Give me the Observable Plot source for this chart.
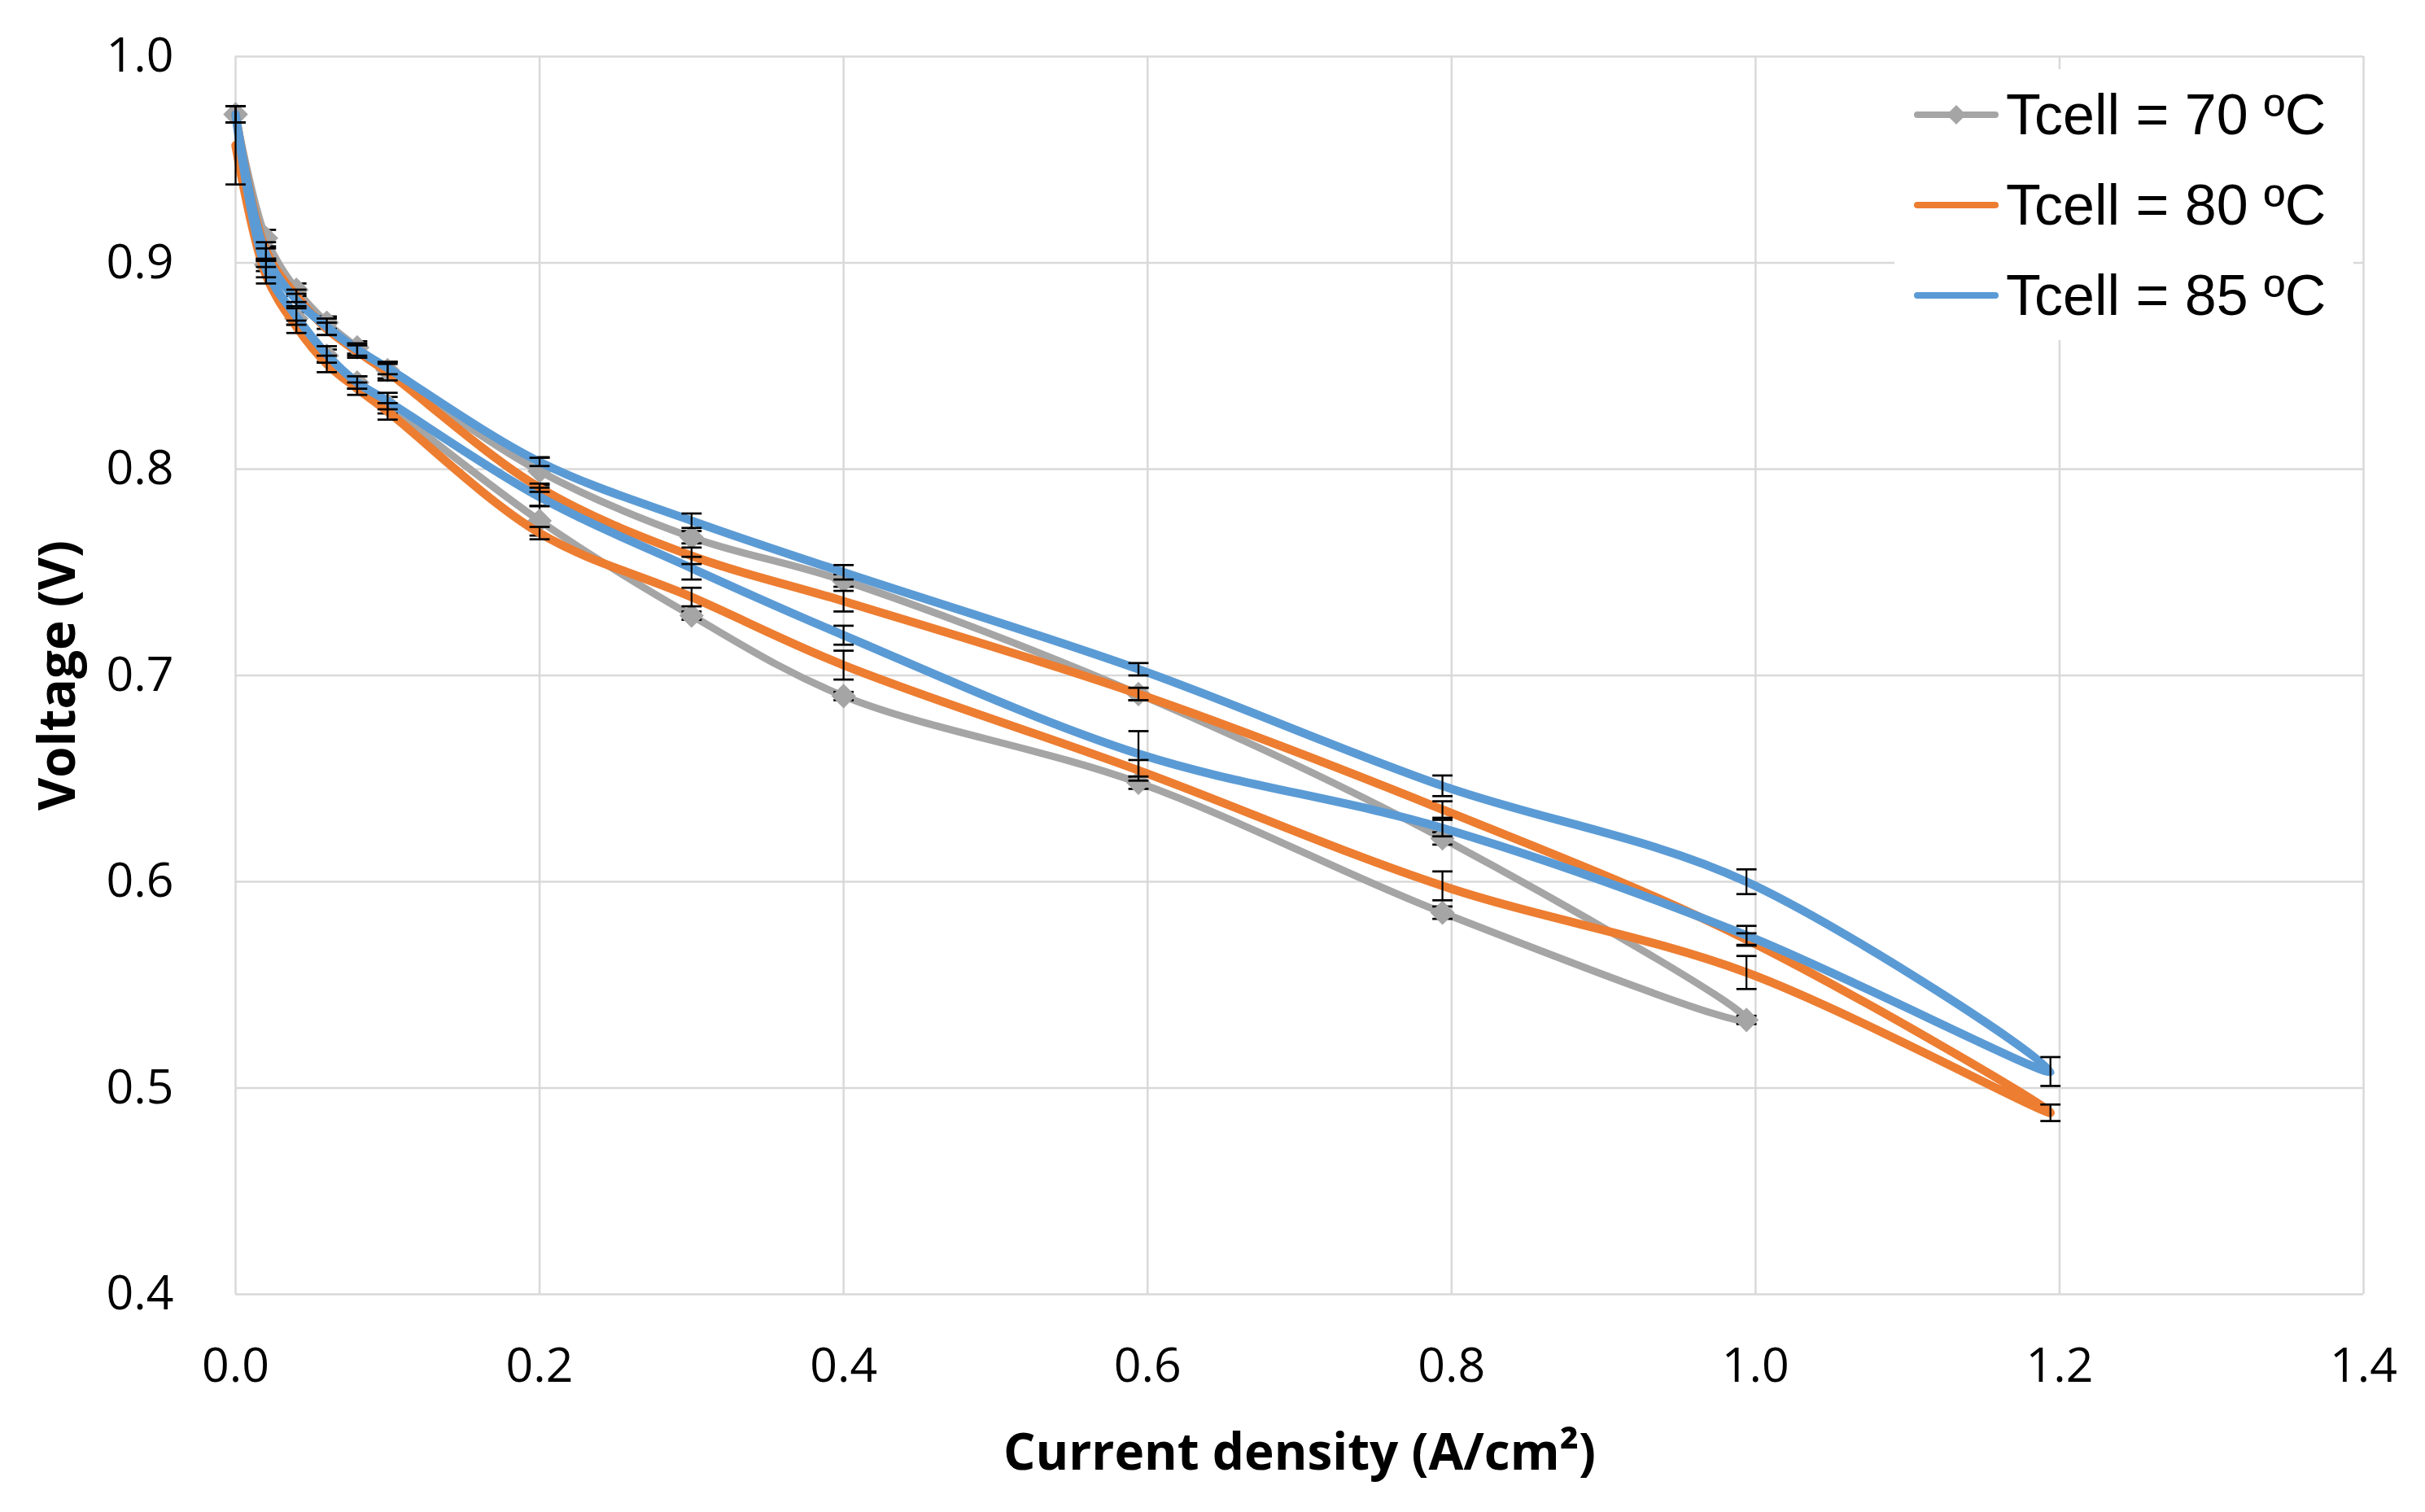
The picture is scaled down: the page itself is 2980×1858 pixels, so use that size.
<!DOCTYPE html>
<html>
<head>
<meta charset="utf-8">
<script src="https://cdn.jsdelivr.net/npm/d3@7"></script>
<script src="https://cdn.jsdelivr.net/npm/@observablehq/plot@0.6"></script>
<style>
  body { margin: 0; background: #fff; }
  #chart { position: relative; width: 2980px; height: 1858px; }
  g[aria-label="x-axis label"] text,
  g[aria-label="y-axis label"] text { font-weight: 700; font-size: 62px; }
  #legend {
    position: absolute; left: 2328px; top: 85px; width: 564px; height: 333px;
    background: #fff; font-family: "Liberation Sans", Arial, sans-serif; font-size: 70px; color: #000;
  }
  #legend .row { height: 111px; display: flex; align-items: center; }
  #legend svg { margin-left: 24px; margin-right: 9px; }
</style>
</head>
<body>
<div id="chart"></div>
<script>
// current density (A/cm2), voltage (V) and error (+/- V), in drawing order (up then back)
const i70 = [0, 0.02, 0.04, 0.06, 0.08, 0.1, 0.2, 0.3, 0.4, 0.594, 0.794, 0.994, 0.794, 0.594, 0.4, 0.3, 0.2, 0.1, 0.08, 0.06, 0.04, 0.02, 0];
const v70 = [0.972, 0.912, 0.887, 0.871, 0.859, 0.848, 0.799, 0.767, 0.746, 0.691, 0.621, 0.533, 0.585, 0.648, 0.690, 0.729, 0.775, 0.831, 0.842, 0.855, 0.873, 0.899, 0.972];
const e70 = [0.004, 0.004, 0.003, 0.003, 0.003, 0.004, 0.0068, 0.003, 0.003, 0.003, 0.003, 0.002, 0.003, 0.003, 0.002, 0.002, 0.0072, 0.004, 0.003, 0.003, 0.003, 0.003, 0.004];

const i80 = [0, 0.02, 0.04, 0.06, 0.08, 0.1, 0.2, 0.3, 0.4, 0.594, 0.794, 0.994, 1.194, 0.994, 0.794, 0.594, 0.4, 0.3, 0.2, 0.1, 0.08, 0.06, 0.04, 0.02, 0];
const v80 = [0.972, 0.906, 0.884, 0.868, 0.857, 0.847, 0.791, 0.758, 0.736, 0.691, 0.635, 0.572, 0.488, 0.556, 0.598, 0.654, 0.705, 0.738, 0.769, 0.828, 0.839, 0.851, 0.869, 0.894, 0.957];
const e80 = [0.004, 0.004, 0.003, 0.003, 0.003, 0.004, 0.002, 0.004, 0.005, 0.003, 0.004, 0.003, 0.004, 0.008, 0.007, 0.005, 0.007, 0.0045, 0.003, 0.004, 0.003, 0.004, 0.003, 0.004, 0.019];

const i85 = [0, 0.02, 0.04, 0.06, 0.08, 0.1, 0.2, 0.3, 0.4, 0.594, 0.794, 0.994, 1.194, 0.994, 0.794, 0.594, 0.4, 0.3, 0.2, 0.1, 0.08, 0.06, 0.04, 0.02, 0];
const v85 = [0.972, 0.904, 0.882, 0.869, 0.858, 0.849, 0.8035, 0.775, 0.750, 0.703, 0.6465, 0.600, 0.508, 0.574, 0.626, 0.662, 0.7195, 0.752, 0.7865, 0.833, 0.842, 0.8556, 0.874, 0.897, 0.972];
const e85 = [0.004, 0.003, 0.003, 0.004, 0.003, 0.003, 0.002, 0.0035, 0.0035, 0.003, 0.005, 0.006, 0.007, 0.0046, 0.004, 0.011, 0.0046, 0.0055, 0.0045, 0.004, 0.003, 0.004, 0.004, 0.004, 0.004];

const seriesNames = ["Tcell = 70 ºC", "Tcell = 80 ºC", "Tcell = 85 ºC"];
const seriesColors = ["#A5A5A5", "#ED7D31", "#5B9BD5"];
const xTicks = [0, 0.2, 0.4, 0.6, 0.8, 1.0, 1.2, 1.4];
const yTicks = [0.4, 0.5, 0.6, 0.7, 0.8, 0.9, 1.0];

const rows = (is, vs, es) => is.map((i, k) => ({ i, v: vs[k], e: es[k] }));
const s70 = rows(i70, v70, e70);
const s80 = rows(i80, v80, e80);
const s85 = rows(i85, v85, e85);

// flat cap for the error bars
const cap = {
  draw(context, size) {
    const w = Math.sqrt(size) / 2;
    context.moveTo(-w, 0);
    context.lineTo(w, 0);
  }
};
// square diamond like Excel's marker
const rhombus = {
  draw(context, size) {
    const w = Math.sqrt(size) / 2;
    context.moveTo(0, -w);
    context.lineTo(w, 0);
    context.lineTo(0, w);
    context.lineTo(-w, 0);
    context.closePath();
  }
};

// error bar marks for one set of rows
const errorBars = (data) => [
  Plot.ruleX(data, { x: "i", y1: (d) => d.v - d.e, y2: (d) => d.v + d.e, stroke: "#000", strokeWidth: 2.3 }),
  Plot.dot(data, { x: "i", y: (d) => d.v + d.e, symbol: cap, r: 14, stroke: "#000", strokeWidth: 2.7 }),
  Plot.dot(data, { x: "i", y: (d) => d.v - d.e, symbol: cap, r: 14, stroke: "#000", strokeWidth: 2.7 })
];

const grid = { stroke: "#d9d9d9", strokeOpacity: 1, strokeWidth: 2.5 };

const chart = Plot.plot({
  width: 2980,
  height: 1858,
  marginLeft: 289,
  marginRight: 76,
  marginTop: 69,
  marginBottom: 268,
  style: { fontFamily: "'Open Sans'", fontSize: "59px", color: "#000", background: "#fff" },
  x: { domain: [0, 1.4] },
  y: { domain: [0.4, 1.0] },
  marks: [
    Plot.gridX(xTicks, grid),
    Plot.gridY(yTicks, grid),
    Plot.axisX(xTicks, {
      tickSize: 0, tickPadding: 66, tickFormat: ".1f",
      label: "Current density (A/cm²)", labelAnchor: "center", labelOffset: 215, labelArrow: "none"
    }),
    Plot.axisY(yTicks, {
      tickSize: 0, tickPadding: 76, tickFormat: ".1f",
      label: "Voltage (V)", labelAnchor: "center", labelOffset: 242, labelArrow: "none"
    }),
    Plot.line(s70, { x: "i", y: "v", stroke: seriesColors[0], strokeWidth: 9, curve: "catmull-rom" }),
    errorBars(s70),
    Plot.dot(s70, { x: "i", y: "v", symbol: rhombus, r: 17, fill: seriesColors[0], stroke: "none" }),
    Plot.line(s80, { x: "i", y: "v", stroke: seriesColors[1], strokeWidth: 10.5, curve: "catmull-rom" }),
    Plot.line(s85, { x: "i", y: "v", stroke: seriesColors[2], strokeWidth: 10.5, curve: "catmull-rom" }),
    errorBars(s80),
    errorBars(s85)
  ]
});

const holder = document.getElementById("chart");
holder.append(chart);

// legend box inside the plot area
const legend = document.createElement("div");
legend.id = "legend";
seriesNames.forEach((name, k) => {
  const row = document.createElement("div");
  row.className = "row";
  const marker = k === 0 ? '<path d="M52,-2 L64,10 L52,22 L40,10 Z" fill="' + seriesColors[k] + '"/>' : "";
  row.innerHTML =
    '<svg width="104" height="20" style="overflow:visible"><line x1="4" y1="10" x2="100" y2="10" stroke="' + seriesColors[k] +
    '" stroke-width="8" stroke-linecap="round"/>' + marker + "</svg><span>" + name + "</span>";
  legend.append(row);
});
holder.append(legend);
</script>
</body>
</html>
